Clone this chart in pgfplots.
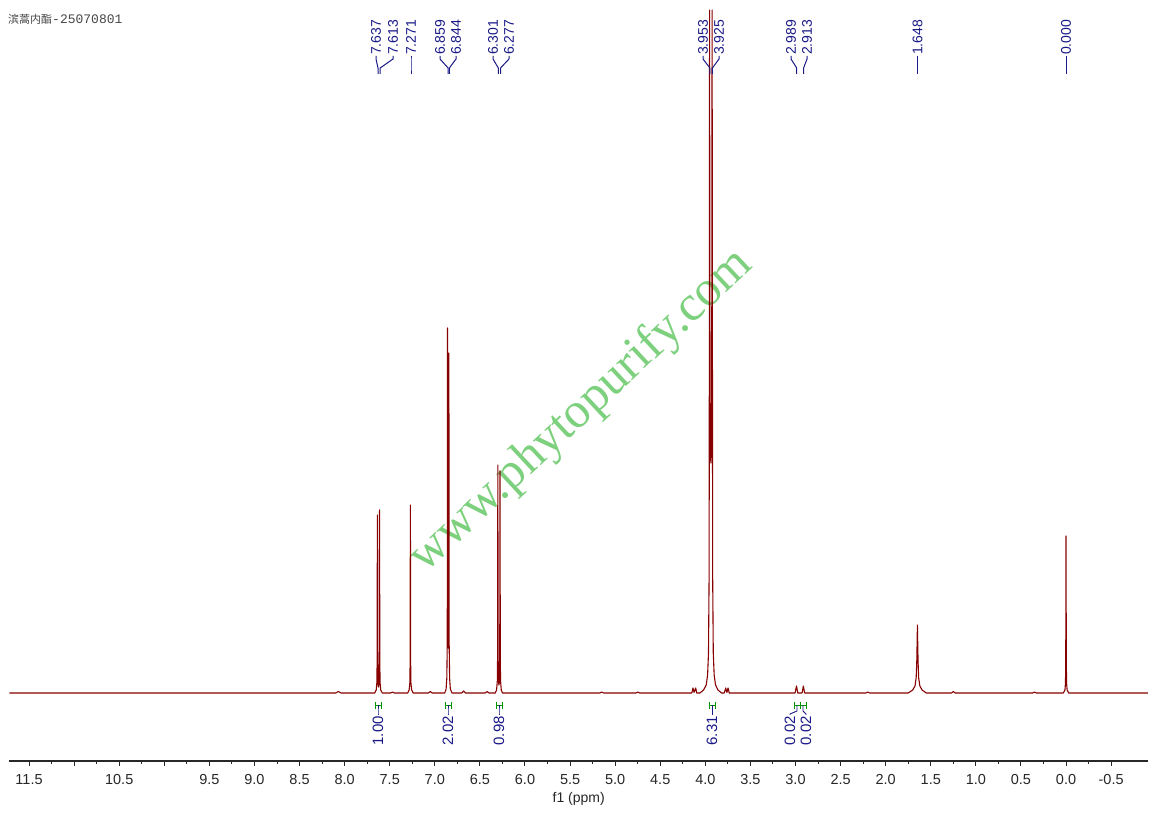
\documentclass[border=0pt]{standalone}
\usepackage{pgfplots}
\pgfplotsset{compat=1.18}
\usepackage{fontspec}
\setmainfont{Liberation Sans}
\newfontfamily\cjk{Noto Sans CJK SC}
\newfontfamily\monofont{Liberation Mono}
\newfontfamily\serifwm{Liberation Serif}
\definecolor{specred}{RGB}{135,0,0}
\definecolor{lblue}{RGB}{25,25,135}
\definecolor{igreen}{RGB}{0,150,0}
\definecolor{wmgreen}{RGB}{125,208,125}
\definecolor{axgray}{RGB}{40,40,40}
\definecolor{titlegray}{RGB}{70,70,70}
\newcommand\plabfont{\fontsize{14}{14}\selectfont}
\newcommand\ilabfont{\fontsize{15}{15}\selectfont}
% peak label: #1 label x (px), #2 peak x (px), #3 text
\newcommand{\plab}[3]{%
  \node[rotate=90,anchor=west,inner sep=0pt,text=lblue,font=\plabfont] at (#1pt,758pt) {#3};
  \draw[lblue,line width=1pt] (#1pt,757pt) -- (#1pt,754pt) -- (#2pt,745pt) -- (#2pt,739pt);
}
% integral label: #1 H x (px), #2 label x (px), #3 text
\newcommand{\ilab}[3]{%
  \draw[igreen,line width=0.9pt] (#1pt-3pt,111pt)--(#1pt-3pt,104pt) (#1pt+3pt,111pt)--(#1pt+3pt,104pt) (#1pt-3pt,107.5pt)--(#1pt+3pt,107.5pt);
  \draw[lblue,line width=0.9pt] (#1pt,107.5pt)--(#1pt,102pt)--(#2pt,99pt)--(#2pt,98pt);
  \node[rotate=90,anchor=east,inner sep=0pt,text=lblue,font=\ilabfont] at (#2pt,97pt) {#3};
}
\begin{document}
\begin{tikzpicture}
\useasboundingbox (0pt,0pt) rectangle (1155pt,813pt);
% watermark
\node[rotate=43,anchor=base,text=wmgreen,font=\serifwm\fontsize{50}{50}\selectfont,inner sep=0pt] at (590pt,393pt) {www.phytopurify.com};
% title
\node[anchor=west,inner sep=0pt,text=titlegray] at (8pt,794pt) {{\cjk\fontsize{11}{11}\selectfont 滨蒿内酯}{\monofont\fontsize{13}{13}\selectfont -25070801}};
\begin{axis}[
  at={(9.5pt,52pt)}, anchor=south west,
  scale only axis, width=1138.5pt, height=761pt,
  xmin=-0.909, xmax=11.717, ymin=-68, ymax=693,
  x dir=reverse,
  axis x line*=bottom, axis y line=none,
  ytick=\empty,
  xtick={-0.5,0,...,11.5},
  xticklabels={-0.5,0.0,0.5,1.0,1.5,2.0,2.5,3.0,3.5,4.0,4.5,5.0,5.5,6.0,6.5,7.0,7.5,8.0,8.5,9.0,9.5,{},10.5,{},11.5},
  minor x tick num=1,
  xtick align=outside,
  major tick length=5pt, minor tick length=3pt,
  tick style={axgray,line width=1pt},
  axis line style={axgray,line width=1.1pt},
  xticklabel style={font=\fontsize{14.5}{14.5}\selectfont,text=black!85,yshift=-5pt},
  xlabel={f1 (ppm)},
  xlabel style={font=\fontsize{14}{14}\selectfont,text=black!85,at={(axis description cs:0.5,0)},anchor=north,inner sep=0pt,yshift=-31pt},
]
\addplot[specred,line width=1.1pt,line join=round] coordinates {
(11.717,0) (8.10,0) (8.07,1.5) (8.04,0)
(7.667,0) (7.650,3) (7.643,10) (7.640,30) (7.637,178) (7.634,30) (7.628,8) (7.625,6) (7.622,8) (7.616,30) (7.613,183) (7.610,30) (7.607,10) (7.600,3) (7.583,0)
(7.49,0) (7.47,1) (7.45,0)
(7.30,0) (7.285,3) (7.277,10) (7.274,30) (7.271,188) (7.268,30) (7.265,10) (7.257,3) (7.24,0)
(7.07,0) (7.05,1.5) (7.03,0)
(6.89,0) (6.875,4) (6.867,15) (6.862,50) (6.859,365) (6.855,60) (6.8515,45) (6.848,55) (6.844,340) (6.841,50) (6.836,15) (6.828,4) (6.81,0)
(6.70,0) (6.68,2) (6.66,0)
(6.44,0) (6.42,1.5) (6.40,0)
(6.33,0) (6.315,3) (6.307,12) (6.304,35) (6.301,228) (6.298,35) (6.292,10) (6.289,8) (6.286,10) (6.280,35) (6.277,222) (6.274,35) (6.271,12) (6.263,3) (6.25,0)
(5.17,0) (5.15,1) (5.13,0)
(4.77,0) (4.75,1) (4.73,0)
(4.15,0) (4.137,5) (4.125,0.5) (4.107,5) (4.095,0)
(4.06,0) (4.02,3) (3.99,8) (3.975,18) (3.965,40) (3.958,120) (3.955,400) (3.953,683) (3.950,400) (3.946,260) (3.939,230) (3.932,260) (3.928,400) (3.925,683) (3.922,400) (3.919,120) (3.912,40) (3.902,18) (3.887,8) (3.86,3) (3.82,0)
(3.79,0) (3.774,5) (3.761,0.5) (3.748,5) (3.735,0)
(3.005,0) (2.989,7) (2.975,0) (2.927,0) (2.913,7) (2.899,0)
(2.22,0) (2.20,1) (2.18,0)
(1.75,0) (1.70,3) (1.675,7) (1.662,15) (1.655,32) (1.651,52) (1.648,68) (1.645,52) (1.641,32) (1.634,15) (1.621,7) (1.596,3) (1.55,0)
(1.27,0) (1.25,1.5) (1.23,0)
(0.37,0) (0.35,1) (0.33,0)
(0.03,0) (0.012,3) (0.006,10) (0.003,35) (0,157) (-0.003,35) (-0.006,10) (-0.012,3) (-0.03,0)
(-0.909,0)
};
\end{axis}
% peak labels
\plab{376}{378}{7.637}
\plab{393}{380.2}{7.613}
\plab{411}{411}{7.271}
\plab{440}{448.1}{6.859}
\plab{456}{449.4}{6.844}
\plab{493}{498.3}{6.301}
\plab{509}{500.5}{6.277}
\plab{703}{709.9}{3.953}
\plab{719}{712.4}{3.925}
\plab{791}{796.7}{2.989}
\plab{807}{803.6}{2.913}
\plab{917.5}{917.5}{1.648}
\plab{1066}{1066}{0.000}
% integrals
\ilab{378}{378}{1.00}
\ilab{448}{448}{2.02}
\ilab{499}{499}{0.98}
\ilab{712}{712}{6.31}
\ilab{797}{790}{0.02}
\ilab{803}{806}{0.02}
\end{tikzpicture}
\end{document}
